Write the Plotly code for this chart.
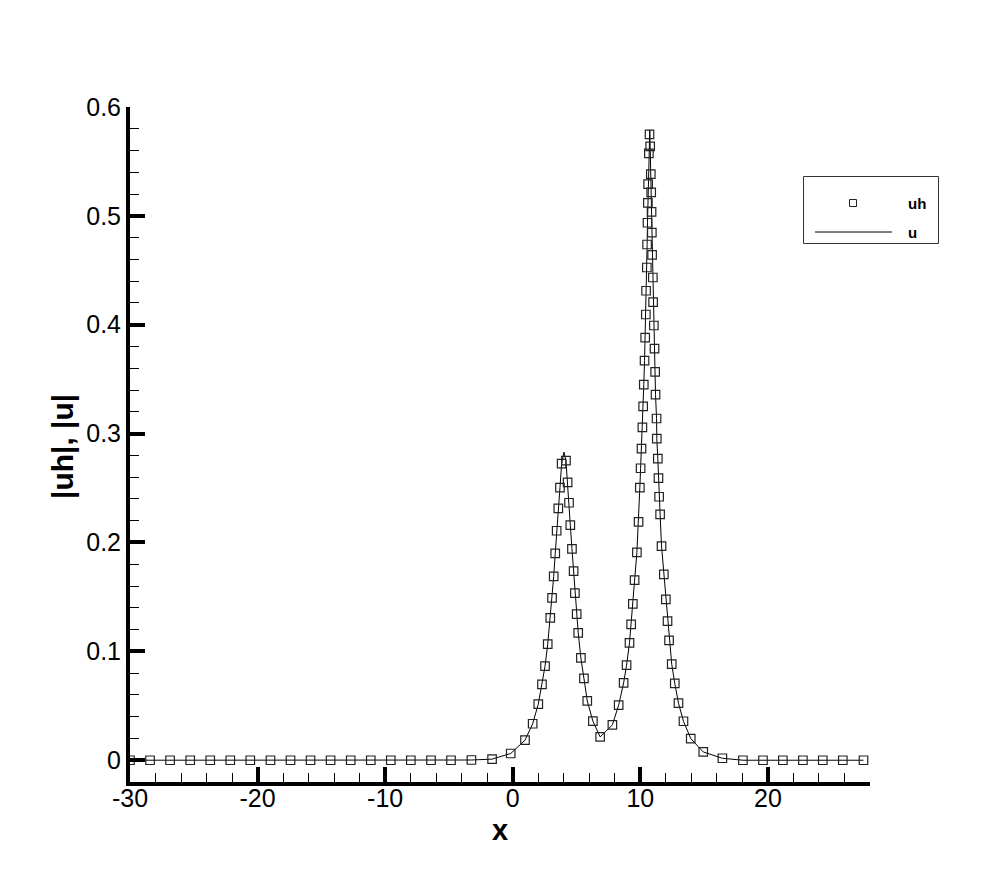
import plotly.graph_objects as go

# ---- data ----
uh_x = [-30.0, -28.43, -26.86, -25.28, -23.71, -22.14, -20.57, -18.99, -17.42, -15.85,
        -14.28, -12.70, -11.13, -9.56, -7.99, -6.41, -4.84, -3.24, -1.62, -0.16,
        0.96, 1.56, 2.00, 2.29, 2.53, 2.74, 2.94, 3.08, 3.21, 3.33,
        3.44, 3.57, 3.70, 3.83, 4.17, 4.30, 4.41, 4.51, 4.64, 4.77,
        4.87, 5.01, 5.13, 5.34, 5.58, 5.84, 6.28, 6.85, 7.81, 8.30,
        8.69, 8.92, 9.15, 9.28, 9.41, 9.55, 9.73, 9.86, 9.96, 10.02,
        10.09, 10.16, 10.22, 10.27, 10.33, 10.38, 10.43, 10.45, 10.51, 10.53,
        10.56, 10.59, 10.61, 10.67, 10.72, 10.77, 10.82, 10.85, 10.88, 10.90,
        10.92, 10.98, 11.00, 11.06, 11.11, 11.16, 11.19, 11.27, 11.29, 11.37,
        11.42, 11.47, 11.55, 11.66, 11.84, 12.00, 12.13, 12.25, 12.46, 12.70,
        12.99, 13.38, 13.95, 14.93, 16.43, 18.04, 19.61, 21.17, 22.74, 24.30,
        25.87, 27.49]
uh_y = [0.0, 0.0, 0.0, 0.0, 0.0, 0.0, 0.0, 0.0, 0.0, 0.0,
        0.0, 0.0, 0.0, 0.0, 0.0, 0.0, 0.0, 0.0002, 0.001, 0.0062,
        0.0184, 0.0335, 0.0515, 0.0696, 0.0864, 0.1066, 0.1308, 0.1492, 0.1689, 0.1900,
        0.2108, 0.2314, 0.2503, 0.2724, 0.2751, 0.2553, 0.2365, 0.2160, 0.1942, 0.1737,
        0.1535, 0.1342, 0.1170, 0.0940, 0.0751, 0.0545, 0.0359, 0.0214, 0.0325, 0.0506,
        0.0711, 0.0873, 0.1078, 0.1247, 0.1437, 0.1654, 0.1909, 0.2190, 0.2503, 0.2682,
        0.2862, 0.3057, 0.3251, 0.3450, 0.3671, 0.3882, 0.4094, 0.4312, 0.4526, 0.4737,
        0.4937, 0.5120, 0.5292, 0.5574, 0.5748, 0.5638, 0.5384, 0.5215, 0.5037, 0.4847,
        0.4642, 0.4434, 0.4207, 0.3993, 0.3781, 0.3567, 0.3358, 0.3139, 0.2954, 0.2770,
        0.2592, 0.2420, 0.2259, 0.1967, 0.1707, 0.1477, 0.1278, 0.1100, 0.0882, 0.0705,
        0.0524, 0.0358, 0.0199, 0.0076, 0.0018, 0.0, 0.0, 0.0, 0.0, 0.0,
        0.0, 0.0]

# exact-solution peaks (line apexes)
u_peak_x = [4.01, 10.74]
u_peak_y = [0.283, 0.579]

x_tickvals = [-30, -20, -10, 0, 10, 20]
x_ticktext = ["-30", "-20", "-10", "0", "10", "20"]
y_tickvals = [0, 0.1, 0.2, 0.3, 0.4, 0.5, 0.6]
y_ticktext = ["0", "0.1", "0.2", "0.3", "0.4", "0.5", "0.6"]

# line u: reference points plus apexes, sorted
u_pts = sorted(list(zip(uh_x, uh_y)) + list(zip(u_peak_x, u_peak_y)))
u_x = [p[0] for p in u_pts]
u_y = [p[1] for p in u_pts]

FONT = "Liberation Sans, Arial, Helvetica, sans-serif"

fig = go.Figure()
fig.add_trace(go.Scatter(x=u_x, y=u_y, mode="lines", name="u",
                         line=dict(color="black", width=1), showlegend=False))
fig.add_trace(go.Scatter(x=uh_x, y=uh_y, mode="markers", name="uh",
                         marker=dict(symbol="square-open", size=8.5, color="#222",
                                     line=dict(width=1.2, color="#222")),
                         showlegend=False))

# plot area in screen pixels: x 130..870, y 107..782 (page has 8px body margin)
OFF = 8
L, R, T, B = 130, 870, 107, 782
W, H = R - L, B - T
FIG_W, FIG_H = 990 - 2 * OFF, 880 - 2 * OFF


def px(xp):
    return (xp - L) / W


def py(yp):
    return (B - yp) / H


fig.update_layout(
    width=FIG_W, height=FIG_H,
    margin=dict(l=L - OFF, r=FIG_W - (R - OFF), t=T - OFF, b=FIG_H - (B - OFF)),
    paper_bgcolor="white", plot_bgcolor="white",
    font=dict(family=FONT, color="black", size=25),
    showlegend=False,
)
fig.update_xaxes(
    range=[-30, 28], showgrid=False, zeroline=False,
    showline=True, linewidth=4, linecolor="black",
    ticks="inside", ticklen=15, tickwidth=3.5, tickcolor="black",
    tickmode="array", tickvals=x_tickvals, ticktext=x_ticktext,
    tickfont=dict(size=25, family=FONT, color="black"),
    ticklabelstandoff=-9,
    minor=dict(ticks="inside", ticklen=9, tickwidth=1, tickcolor="black",
               tickmode="linear", tick0=0, dtick=2, showgrid=False),
)
fig.update_yaxes(
    range=[-0.02, 0.6], showgrid=False, zeroline=False,
    showline=True, linewidth=4, linecolor="black",
    ticks="inside", ticklen=15, tickwidth=3.5, tickcolor="black",
    tickmode="array", tickvals=y_tickvals, ticktext=y_ticktext,
    tickfont=dict(size=25, family=FONT, color="black"),
    minor=dict(ticks="inside", ticklen=9, tickwidth=1, tickcolor="black",
               tickmode="linear", tick0=0, dtick=0.02, showgrid=False),
)

# axis titles
fig.add_annotation(text="<b>x</b>", x=px(500), y=py(830), xref="paper", yref="paper",
                   showarrow=False, xanchor="center", yanchor="middle",
                   font=dict(size=29, family=FONT, color="black"))
fig.add_annotation(text="<b>|uh|, |u|</b>", x=px(62), y=py(447), xref="paper", yref="paper",
                   showarrow=False, xanchor="center", yanchor="middle", textangle=-90,
                   font=dict(size=30, family=FONT, color="black"))

# custom legend box
fig.add_shape(type="rect", xref="paper", yref="paper",
              x0=px(803.5), x1=px(938.5), y0=py(243.5), y1=py(176.5),
              line=dict(color="#333", width=1), fillcolor="white", layer="above")
fig.add_shape(type="rect", xref="paper", yref="paper",
              x0=px(849.5), x1=px(856.5), y0=py(206.5), y1=py(199.5),
              line=dict(color="#222", width=1), fillcolor="rgba(0,0,0,0)", layer="above")
fig.add_shape(type="line", xref="paper", yref="paper",
              x0=px(815), x1=px(892), y0=py(232), y1=py(232),
              line=dict(color="black", width=1), layer="above")
fig.add_annotation(text="<b>uh</b>", x=px(906), y=py(203), xref="paper", yref="paper",
                   showarrow=False, xanchor="left", yanchor="middle",
                   font=dict(size=15, family=FONT, color="black"))
fig.add_annotation(text="<b>u</b>", x=px(906), y=py(232), xref="paper", yref="paper",
                   showarrow=False, xanchor="left", yanchor="middle",
                   font=dict(size=15, family=FONT, color="black"))

fig.write_html("out.html")
